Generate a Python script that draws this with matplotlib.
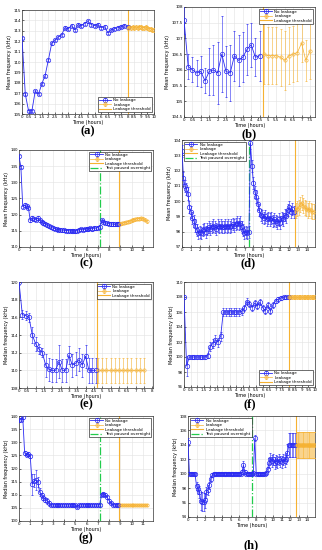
import matplotlib
matplotlib.use("Agg")
import matplotlib.pyplot as plt
import numpy as np

BLUE = "#2a2af2"
ORANGE = "#f6b232"
GREEN = "#22cc4c"

# (a) mean frequency, 15 min samples
a_blue = [112.3, 106.9, 105.3, 105.3, 107.2, 106.9, 107.9, 108.7, 110.2, 111.8, 112.1,
          112.4, 112.6, 113.3, 113.2, 113.5, 113.1, 113.6, 113.5, 113.7, 113.9, 113.6,
          113.5, 113.6, 113.3, 113.4, 112.8, 113.1, 113.2, 113.3, 113.4, 113.5, 113.4]
a_blue_err = 0.12
a_orange = [113.3, 113.4, 113.3, 113.4, 113.3, 113.4, 113.3, 113.4, 113.4, 113.3, 113.3,
            113.4, 113.3, 113.2, 113.2, 113.1, 113.1]
a_orange_err = 0.2

# (b)
b_blue = [107.6, 106.1, 106.0, 105.9, 105.95, 105.65, 105.95, 106.0, 105.9, 106.5,
          105.95, 105.9, 106.45, 106.3, 106.4, 106.65, 106.8, 106.4, 106.45]
b_blue_err = [0.45, 0.4, 0.4, 0.4, 0.5, 0.4, 0.75, 0.8, 1.0, 1.2, 0.8, 0.9, 0.8, 0.8,
              0.8, 0.8, 0.7, 0.6, 0.8]
b_orange = [106.5, 106.45, 106.45, 106.45, 106.4, 106.3, 106.45, 106.5, 106.55, 106.85,
            106.3, 106.6]
b_orange_err = [0.95, 0.9, 0.9, 0.9, 0.9, 0.95, 0.9, 0.9, 0.9, 0.6, 0.65, 0.9]

# (c) 10 min samples
c_blue = [138.0, 134.8, 122.5, 123.0, 122.6, 122.2, 118.2, 119.0, 118.6, 118.4, 119.0,
          118.3, 117.8, 117.4, 117.2, 116.8, 116.4, 116.1, 115.9, 115.7, 115.5, 115.4,
          115.3, 115.2, 115.2, 115.1, 115.1, 115.0, 115.0, 115.0, 114.9, 115.1, 115.3,
          115.5, 115.3, 115.5, 115.7, 115.5, 115.8, 115.6, 115.9, 115.8, 116.0, 116.3,
          118.2, 117.8, 117.5, 117.3, 117.2, 117.1, 117.1, 117.0, 117.1, 117.2]
c_blue_err = 0.5
c_orange = [117.2, 117.3, 117.5, 117.6, 117.8, 118.0, 118.2, 118.4, 118.6, 118.7, 118.8,
            118.9, 118.7, 118.4, 118.0]
c_orange_err = 0.45

# (d)
d_blue = [103.3, 101.5, 101.0, 100.8, 100.5, 99.6, 99.3, 98.9, 98.7, 98.4, 98.1, 97.9,
          98.0, 97.9, 98.1, 98.2, 98.0, 98.2, 98.3, 98.2, 98.3, 98.4, 98.3, 98.2, 98.4,
          98.3, 98.4, 98.3, 98.3, 98.4, 98.3, 98.4, 98.3, 98.4, 98.5, 98.4, 98.5, 98.6,
          98.5, 98.6, 98.3, 98.1, 97.9, 98.0, 97.9, 98.0,
          103.8, 102.3, 101.2, 100.6, 100.3, 99.8, 99.4, 99.1, 99.0, 98.9, 99.0, 98.8,
          98.9, 98.8, 98.9, 98.7, 98.8, 98.7, 98.6, 98.8, 98.6, 98.9, 98.8, 99.1, 99.0,
          99.4, 99.6, 99.3, 99.5, 99.3]
d_blue_err = 0.4
d_orange = [99.4, 99.5, 99.6, 99.8, 99.9, 99.7, 99.6, 99.5, 99.4, 99.5, 99.4, 99.3, 99.3]
d_orange_err = 0.5

# (e) median frequency
e_blue = [120.0, 116.3, 116.2, 116.0, 114.0, 113.0, 112.4, 112.0, 110.6, 110.1, 110.0,
          110.0, 111.0, 110.0, 110.0, 111.7, 110.6, 110.8, 111.2, 110.6, 111.6, 110.0,
          110.0, 110.0]
e_blue_err = [0.3, 0.5, 0.5, 0.5, 0.9, 0.8, 0.6, 0.5, 1.3, 1.3, 1.3, 1.3, 1.9, 1.3,
              1.3, 1.0, 1.3, 1.3, 1.3, 1.3, 1.3, 1.4, 1.4, 1.4]
e_orange = [110.0, 110.0, 110.0, 110.0, 110.0, 110.0, 110.0, 110.0, 110.0, 110.0,
            110.0, 110.0]
e_orange_err = 1.4

# (f)
f_blue = [108.0, 98.8, 100.0, 100.0, 100.0, 100.0, 100.0, 100.0, 100.0, 100.2, 101.4,
          101.8, 102.3, 102.0, 102.8, 106.0, 106.0, 106.0, 106.0, 106.0, 106.0, 106.0,
          106.1, 106.5, 107.4, 107.1, 106.6, 107.2, 106.8, 107.3, 106.6, 106.2, 106.9,
          106.1, 107.0, 107.5, 107.7, 107.9, 108.0, 108.0, 108.0]
f_blue_err = [0.3, 1.3, 0.3, 0.3, 0.3, 0.3, 0.3, 0.3, 0.3, 0.3, 0.6, 0.6, 0.6, 0.6,
              0.6, 0.5, 0.5, 0.5, 0.5, 0.5, 0.5, 0.5, 0.5, 0.4, 0.4, 0.4, 0.4, 0.4,
              0.4, 0.4, 0.4, 0.4, 0.4, 0.4, 0.4, 0.3, 0.3, 0.3, 0.2, 0.2, 0.2]
f_orange = [108.0, 108.0, 108.0, 108.0, 108.0, 108.0, 108.0, 108.0, 108.0, 108.0, 108.0,
            108.0, 108.0, 108.0, 108.0, 108.0, 108.0]
f_orange_err = 0.25

# (g)
g_blue = [138.3, 138.6, 139.6, 125.9, 125.3, 125.4, 124.6, 114.0, 115.3, 115.5, 114.9,
          111.0, 109.8, 108.9, 108.1, 107.6, 106.8, 106.1,
          106.1, 106.1, 106.1, 106.1, 106.1, 106.1, 106.1, 106.1, 106.1, 106.1, 106.1,
          106.1, 106.1, 105.3, 106.1, 106.1, 106.1, 106.1, 106.1, 106.1, 106.1, 106.1,
          106.1, 106.1, 106.1, 106.1, 110.0, 110.4, 110.0, 109.0, 107.8, 106.8, 106.1,
          106.1, 106.1, 106.1]
g_blue_err = [0.6, 0.6, 0.6, 0.7, 0.7, 0.7, 0.7, 4.0, 2.5, 3.8, 2.0, 1.5, 1.0, 1.0,
              1.0, 1.0, 1.0, 0.3, 0.3, 0.3, 0.3, 0.3, 0.3, 0.3, 0.3, 0.3, 0.3, 0.3,
              0.3, 0.3, 0.3, 0.3, 0.3, 0.3, 0.3, 0.3, 0.3, 0.3, 0.3, 0.3, 0.3, 0.3,
              0.3, 0.3, 0.5, 0.5, 0.5, 0.5, 0.5, 0.4, 0.3, 0.3, 0.3, 0.3]
g_orange = [106.1, 106.1, 106.1, 106.1, 106.1, 106.1, 106.1, 106.1, 106.1, 106.1, 106.1,
            106.1, 106.1, 106.1, 106.1]
g_orange_err = 0.4

# (h)
h_blue = [104.4, 100.0, 100.0, 100.0, 100.0, 99.9, 98.3, 97.9, 97.5, 96.2, 96.1, 96.1,
          96.3, 97.4, 97.8, 98.4, 99.3, 99.8, 100.0,
          100.0, 100.0, 100.0, 100.0, 100.0, 100.0, 100.0, 100.0, 100.0, 100.0, 100.0,
          100.0, 100.0, 100.0, 100.0, 100.0, 100.0, 100.0, 100.0,
          100.2, 101.2, 100.2, 100.0, 100.0, 100.0, 100.0, 100.0, 100.1, 104.9, 100.0,
          100.0, 100.0, 100.0, 100.0, 100.0, 100.0, 100.1, 100.6, 101.5, 102.1, 101.8,
          102.0, 101.5, 101.8, 101.6, 102.0, 101.7, 101.6, 102.0, 101.8, 102.1, 102.9,
          104.0, 104.0, 104.0, 104.0, 104.0]
h_blue_err = [0.6, 0.2, 0.2, 0.2, 0.2, 0.2, 0.6, 0.7, 0.8, 1.2, 1.3, 1.2, 1.0, 0.8,
              0.7, 0.5, 0.4, 0.3, 0.2,
              0.2, 0.2, 0.2, 0.2, 0.2, 0.2, 0.2, 0.2, 0.2, 0.2, 0.2, 0.2, 0.2, 0.2,
              0.2, 0.2, 0.2, 0.2, 0.2,
              0.3, 0.5, 0.3, 0.2, 0.2, 0.2, 0.2, 0.2, 0.2, 0.4, 0.2, 0.2, 0.2, 0.2,
              0.2, 0.2, 0.2, 0.2, 0.4, 0.7, 0.8, 0.8, 0.8, 0.8, 0.8, 0.8, 0.8, 0.8,
              0.8, 0.8, 0.8, 0.8, 1.2, 1.7, 1.7, 1.7, 1.7, 1.7]
h_orange = [104.0, 104.0, 104.0, 104.0, 104.0, 104.0, 104.0, 104.0, 104.0, 104.0, 104.0,
            104.0, 104.0, 104.0, 104.0, 104.0, 104.0, 104.0, 104.0, 104.0, 104.0, 104.0]
h_orange_err = 1.8

# sampling (start, step) in hours, thresholds and pauses
panels = [
    dict(tag="(a)", blue=a_blue, be=a_blue_err, bt=(0, 0.25), orange=a_orange, oe=a_orange_err,
         ot=(8.0, 0.125), thr=8.0, pause=None, ylabel="Mean frequency (kHz)",
         xlim=(0, 10), xstep=0.5, ylim=(105, 115), ystep=1, loc="lower right"),
    dict(tag="(b)", blue=b_blue, be=b_blue_err, bt=(0, 0.25), orange=b_orange, oe=b_orange_err,
         ot=(4.75, 0.25), thr=4.7, pause=None, ylabel="Mean frequency (kHz)",
         xlim=(0, 7.8), xstep=0.5, ylim=(104.5, 108), ystep=0.5, loc="upper right"),
    dict(tag="(c)", blue=c_blue, be=c_blue_err, bt=(0, 1 / 6), orange=c_orange, oe=c_orange_err,
         ot=(9.0, 1 / 6), thr=8.88, pause=7.15, ylabel="Mean frequency (kHz)",
         xlim=(0, 11.9), xstep=1, ylim=(110, 140), ystep=5, loc="upper right"),
    dict(tag="(d)", blue=d_blue, be=d_blue_err, bt=(0, 1 / 6), orange=d_orange, oe=d_orange_err,
         ot=(12.75, 1 / 6), thr=12.7, pause=7.55, ylabel="Mean frequency (kHz)",
         xlim=(0, 14.9), xstep=1, ylim=(97, 104), ystep=1, loc="upper left"),
    dict(tag="(e)", blue=e_blue, be=e_blue_err, bt=(0, 0.2), orange=e_orange, oe=e_orange_err,
         ot=(4.75, 0.25), thr=4.7, pause=None, ylabel="Median frequency (kHz)",
         xlim=(0, 8.05), xstep=0.5, ylim=(108, 120), ystep=2, loc="upper right"),
    dict(tag="(f)", blue=f_blue, be=f_blue_err, bt=(0, 0.2), orange=f_orange, oe=f_orange_err,
         ot=(8.0, 0.125), thr=8.0, pause=None, ylabel="Median frequency (kHz)",
         xlim=(0, 10), xstep=0.5, ylim=(96, 110), ystep=2, loc="lower right"),
    dict(tag="(g)", blue=g_blue, be=g_blue_err, bt=(0, 1 / 6), orange=g_orange, oe=g_orange_err,
         ot=(9.0, 1 / 6), thr=8.85, pause=7.15, ylabel="Median frequency (kHz)",
         xlim=(0, 11.9), xstep=1, ylim=(100, 140), ystep=5, loc="upper right"),
    dict(tag="(h)", blue=h_blue, be=h_blue_err, bt=(0, 1 / 6), orange=h_orange, oe=h_orange_err,
         ot=(12.75, 0.1), thr=12.7, pause=7.5, ylabel="Median frequency (kHz)",
         xlim=(0, 14.9), xstep=1, ylim=(94, 108), ystep=2, loc="upper left"),
]

# axes boxes in pixels: left, top, right, bottom ; label centre y
boxes = [(22, 10, 154, 114, 131), (184, 7, 315, 117, 134),
         (19, 150, 153, 247, 263), (182, 140, 315, 247, 263),
         (19, 282, 153, 388, 404), (184, 282, 315, 387, 404),
         (19, 416, 153, 521, 538), (188, 416, 315, 517, 545)]

W, H = 322, 550
fig = plt.figure(figsize=(W / 100, H / 100), dpi=100)


def draw(ax, p):
    t0, dt = p["bt"]
    tb = t0 + dt * np.arange(len(p["blue"]))
    o0, odt = p["ot"]
    to = o0 + odt * np.arange(len(p["orange"]))

    hb = ax.errorbar(tb, p["blue"], yerr=p["be"], color=BLUE, marker="o", ms=3.2,
                     mfc="none", mew=0.5, lw=0.6, elinewidth=0.4, capsize=0.8,
                     capthick=0.4, zorder=3)
    ho = ax.errorbar(to, p["orange"], yerr=p["oe"], color=ORANGE, marker="o", ms=2.4,
                     mfc="none", mew=0.45, lw=0.5, elinewidth=0.4, capsize=0.8,
                     capthick=0.4, zorder=3)
    ht = ax.axvline(p["thr"], color=ORANGE, lw=0.8, zorder=2)
    handles = [hb, ho, ht]
    labels = ["No leakage", "Leakage", "Leakage threshold"]
    if p["pause"] is not None:
        hp = ax.axvline(p["pause"], color=GREEN, lw=0.9, ls="-.", zorder=2)
        handles.append(hp)
        labels.append("Test paused overnight")

    ax.set_xlim(*p["xlim"])
    ax.set_ylim(*p["ylim"])
    xt = np.arange(p["xlim"][0], p["xlim"][1] + 1e-6, p["xstep"])
    yt = np.arange(p["ylim"][0], p["ylim"][1] + 1e-6, p["ystep"])
    ax.set_xticks(xt)
    ax.set_xticklabels([f"{v:g}" for v in xt])
    ax.set_yticks(yt)
    ax.set_yticklabels([f"{v:g}" for v in yt])
    ax.tick_params(labelsize=2.9, direction="in", length=1.5, width=0.4, pad=0.8)
    ax.grid(True, color="#e2e2e2", lw=0.4)
    ax.set_axisbelow(True)
    for s in ax.spines.values():
        s.set_linewidth(0.5)
        s.set_color("#333333")
    ax.set_xlabel("Time (hours)", fontsize=3.5, labelpad=0.5)
    ax.set_ylabel(p["ylabel"], fontsize=3.5, labelpad=1.2)
    leg = ax.legend(handles, labels, loc=p["loc"], fontsize=3.0, handlelength=3,
                    borderpad=0.3, labelspacing=0.1, handletextpad=0.5,
                    fancybox=False, framealpha=1, edgecolor="black", borderaxespad=0.4)
    leg.get_frame().set_linewidth(0.4)


for p, (l, t, r, b, ly) in zip(panels, boxes):
    ax = fig.add_axes([l / W, 1 - b / H, (r - l) / W, (b - t) / H])
    draw(ax, p)
    fig.text((l + r) / 2 / W, 1 - ly / H, p["tag"], ha="center", va="center",
             fontsize=9, family="Liberation Serif", weight="bold")

fig.savefig("out.png", dpi=100)
